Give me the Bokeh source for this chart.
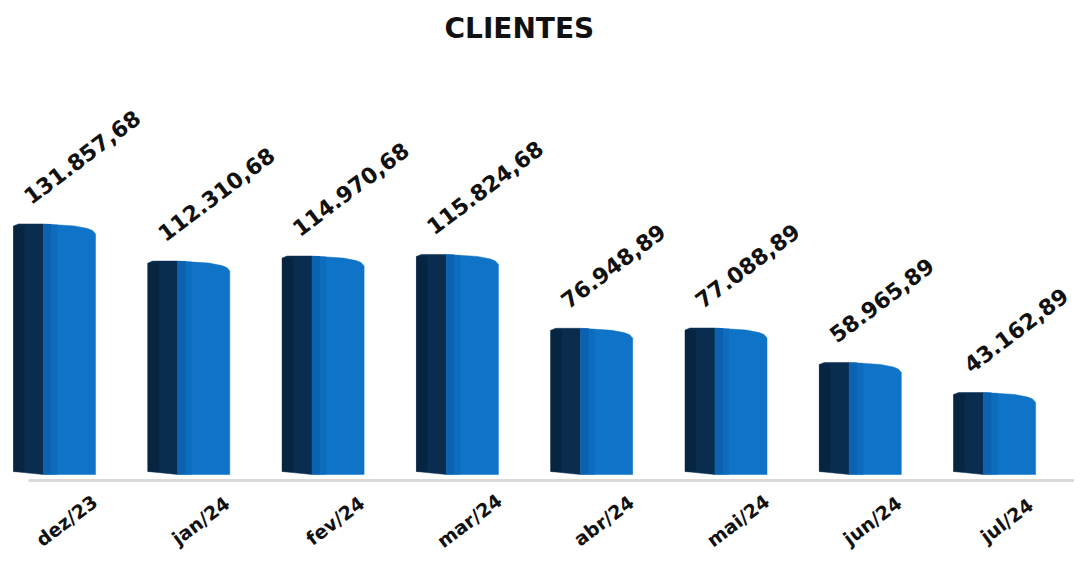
from bokeh.plotting import figure
from bokeh.models import Range1d
from bokeh.core.properties import value
from bokeh.embed import file_html
from bokeh.resources import INLINE
import math

# ---- data ----
months = ["dez/23", "jan/24", "fev/24", "mar/24", "abr/24", "mai/24", "jun/24", "jul/24"]
clientes = [131857.68, 112310.68, 114970.68, 115824.68, 76948.89, 77088.89, 58965.89, 43162.89]
title_text = "CLIENTES"


def fmt_br(v):
    s = f"{v:,.2f}"
    return s.replace(",", "X").replace(".", ",").replace("X", ".")


value_labels = [fmt_br(v) for v in clientes]
idx = list(range(len(months)))

# ---- geometry (pixels -> data units) ----
FRAME_W = 1074
TOP = 49
FRAME_H = 554 - TOP
PX_PER_CAT = 134.3          # pixels per category
PX_PER_1000 = 1.9           # pixels per 1000 units
PX_X = 1.0 / PX_PER_CAT
PX_Y = 1000.0 / PX_PER_1000

x0 = -54 * PX_X
x1 = x0 + FRAME_W * PX_X
base_from_top = 474 - TOP
y1 = base_from_top * PX_Y
y0 = -(FRAME_H - base_from_top) * PX_Y

p = figure(frame_width=FRAME_W, frame_height=FRAME_H,
           x_range=Range1d(x0, x1), y_range=Range1d(y0, y1),
           output_backend="svg", toolbar_location=None,
           min_border=0, min_border_top=TOP, title=title_text)
p.title.align = "left"
p.title.offset = 444
p.title.text_font = "DejaVu Sans"
p.title.text_font_style = "bold"
p.title.text_font_size = "28px"
p.title.text_color = "#111111"
p.axis.visible = False
p.xgrid.visible = False
p.ygrid.visible = False
p.outline_line_color = None
p.background_fill_color = "white"
p.border_fill_color = "white"

# ---- bars (3D-like: dark side face + blue front face) ----
dark_xs, dark_ys, blue_xs, blue_ys = [], [], [], []
for i, v in zip(idx, clientes):
    L = i - 41 * PX_X
    S = i - 11 * PX_X
    R = i + 41 * PX_X
    dark_xs.append([L, L, L + 5 * PX_X, S, S])
    dark_ys.append([3 * PX_Y, v - 2 * PX_Y, v, v, 0])
    blue_xs.append([S, S, i + 20 * PX_X, i + 33 * PX_X, i + 38 * PX_X, R, R])
    blue_ys.append([0, v, v - 2 * PX_Y, v - 4.5 * PX_Y, v - 6.5 * PX_Y, v - 10 * PX_Y, 0])

p.patches(dark_xs, dark_ys, fill_color="#0a2c4f", line_color="#0a2c4f", line_width=0.5)
p.patches(blue_xs, blue_ys, fill_color="#0f73c7", line_color="#0f73c7", line_width=0.5)

# soft shading strips
p.quad(left=[i - 41 * PX_X for i in idx], right=[i - 30 * PX_X for i in idx],
       bottom=[3 * PX_Y] * len(idx), top=[v - 2 * PX_Y for v in clientes],
       fill_color="#072440", line_color=None)
p.quad(left=[i - 11 * PX_X for i in idx], right=[i - 3 * PX_X for i in idx],
       bottom=[0] * len(idx), top=[v for v in clientes],
       fill_color="#0b62b0", line_color=None)
p.quad(left=[i - 3 * PX_X for i in idx], right=[i + 3 * PX_X for i in idx],
       bottom=[0] * len(idx), top=[v - 0.7 * PX_Y for v in clientes],
       fill_color="#0d6cbd", line_color=None)

# base line
p.segment(x0=[x0 + 28 * PX_X], y0=[-6 * PX_Y], x1=[x1], y1=[-6 * PX_Y],
          line_color="#d9d9d9", line_width=3)

# value labels
p.text(x=idx, y=clientes, text=value_labels, angle=math.radians(37),
       x_offset=-28, y_offset=-25, text_align="left", text_baseline="alphabetic",
       text_font=value("DejaVu Sans"), text_font_style="bold",
       text_font_size="22px", text_color="#111111")

# category labels
p.text(x=idx, y=[0] * len(idx), text=months, angle=math.radians(37),
       x_offset=12, y_offset=46, text_align="center", text_baseline="middle",
       text_font=value("DejaVu Sans"), text_font_style="bold",
       text_font_size="19px", text_color="#111111")

open("out.html", "w").write(file_html(p, INLINE))
